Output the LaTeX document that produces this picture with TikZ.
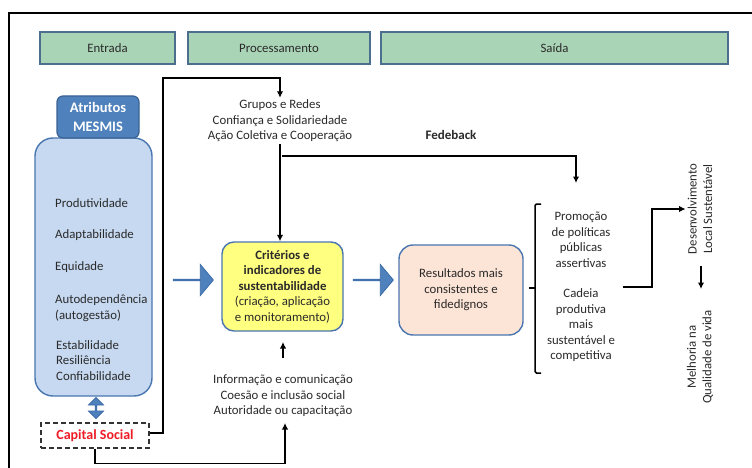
\documentclass[tikz,border=0pt]{standalone}
\usepackage{fontspec}
\setmainfont{Carlito}
\usetikzlibrary{arrows.meta,shapes.arrows,calc}
\definecolor{hdrfill}{HTML}{AAD4B6}
\definecolor{hdrline}{HTML}{4D6F8E}
\definecolor{txt}{HTML}{2A2A2A}
\definecolor{attrfill}{HTML}{4F81BD}
\definecolor{attrline}{HTML}{3B6294}
\definecolor{bigfill}{HTML}{C6D9F1}
\definecolor{boxline}{HTML}{4A76B0}
\definecolor{yellowfill}{HTML}{FFFF80}
\definecolor{peachfill}{HTML}{FCE4D6}
\definecolor{arrfill}{HTML}{4F81BD}
\definecolor{arrline}{HTML}{3A6AA8}
\definecolor{capred}{HTML}{EE1C25}
\tikzset{
  hdr/.style={draw=hdrline, fill=hdrfill, line width=1.3pt, minimum height=32, inner sep=0, font=\fontsize{12.8}{14}\selectfont, text=txt},
  txtnode/.style={align=center, text=txt, font=\fontsize{12.8}{15.5}\selectfont, inner sep=2},
  item/.style={anchor=west, text=txt, font=\fontsize{12.8}{15.5}\selectfont, inner sep=0, align=left},
  arr/.style={draw=black, line width=1.5pt, -{Latex[length=6.5pt,width=6.5pt]}},
  conn/.style={draw=black, line width=1.5pt},
  blockarrow/.style={single arrow, draw=arrline, fill=arrfill, line width=0.8pt, minimum height=40, minimum width=31, single arrow head extend=7.5, inner sep=0, single arrow tip angle=100},
  roundbox/.style={draw=boxline, line width=1.4pt, align=center, text=txt, inner sep=2, font=\fontsize{12.8}{15.5}\selectfont},
}
\begin{document}
\begin{tikzpicture}[x=1pt,y=-1pt]
\useasboundingbox (0,0) rectangle (752,468);
\fill[white] (0,0) rectangle (752,468);
\begin{scope}
  \clip (0,0) rectangle (752,468);
  \draw[line width=2pt] (9,480) -- (9,13) -- (770,13);
\end{scope}

% headers
\node[hdr, minimum width=135] (entrada) at (107.5,48) {Entrada};
\node[hdr, minimum width=182] (proc) at (279,48) {Processamento};
\node[hdr, minimum width=347] (saida) at (554.5,48) {Saída};

% attributes
\node[draw=boxline, fill=bigfill, line width=1.4pt, rounded corners=18, minimum width=117, minimum height=258] (big) at (93.5,267) {};
\node[draw=attrline, fill=attrfill, line width=1.2pt, rounded corners=6, minimum width=82, minimum height=42, inner sep=0, text=white, align=center, font=\bfseries\fontsize{14.5}{19}\selectfont] (attr) at (98,117) {Atributos\\MESMIS};
\node[item] (i1) at (55,203) {Produtividade};
\node[item] (i2) at (55,235) {Adaptabilidade};
\node[item] (i3) at (55,267) {Equidade};
\node[item] (i4) at (55,308) {Autodependência\\(autogestão)};
\node[item] (i5) at (56,360.5) {Estabilidade\\Resiliência\\Confiabilidade};

\node[double arrow, rotate=90, draw=arrline, fill=arrfill, line width=0.8pt, minimum height=21, minimum width=15, double arrow head extend=3.5, inner sep=0] (dbl) at (96,408) {};

\node[draw=black!80, dashed, dash pattern=on 5pt off 3pt, line width=1.4pt, minimum width=108, minimum height=25, inner sep=0, text=capred, font=\bfseries\fontsize{14}{16}\selectfont] (cs) at (95,435.5) {Capital Social};

% processing
\node[txtnode] (grupos) at (280,121) {Grupos e Redes\\Confiança e Solidariedade\\Ação Coletiva e Cooperação};
\node[roundbox, fill=yellowfill, rounded corners=12, minimum width=121, minimum height=89] (crit) at (282.5,286.5) {\textbf{Critérios e}\\\textbf{indicadores de}\\\textbf{sustentabilidade}\\(criação, aplicação\\e monitoramento)};
\node[txtnode] (info) at (283,396) {Informação e comunicação\\Coesão e inclusão social\\Autoridade ou capacitação};

\node[blockarrow] (ba1) at (193,280) {};
\node[blockarrow] (ba2) at (373,280) {};

\node[roundbox, fill=peachfill, rounded corners=14, minimum width=124, minimum height=90] (res) at (461,290) {Resultados mais\\consistentes e\\fidedignos};

\node[text=txt, font=\bfseries\fontsize{13}{15}\selectfont] (fb) at (451,135) {Fedeback};

% outputs
\node[txtnode] (promo) at (581,240) {Promoção\\de políticas\\públicas\\assertivas};
\node[txtnode] (cadeia) at (581,325.5) {Cadeia\\produtiva\\mais\\sustentável e\\competitiva};
\draw[conn, rounded corners=1.5] (541,204) -- (535,204) -- (535,373) -- (541,373);
\draw[conn] (529,288) -- (535,288);

\node[txtnode, rotate=90] (desen) at (700,209) {Desenvolvimento\\Local Sustentável};
\node[txtnode, rotate=90] (melh) at (700,357) {Melhoria na\\Qualidade de vida};

% connectors
\coordinate (csr) at (163,78);
\draw[arr] (cs.east |- 0,433) -- (csr |- 0,433) -- (csr) -| (grupos.north);
\draw[arr] (grupos.south) -- (grupos.south |- crit.north);
\coordinate (fbstart) at (282,156);
\coordinate (fbend) at (576,183);
\draw[arr] (fbstart) -| (fbend);
\coordinate (infoup) at (283,358);
\draw[arr] (infoup) -- ++(0,-16);
\coordinate (infoin) at (285,423);
\draw[arr] (cs.south) -- ++(0,15) -| (infoin);
\coordinate (cstart) at (623,287);
\draw[arr] (cstart) -- (652,287) |- (desen.north);
\coordinate (dtop) at (701,266);
\draw[arr] (dtop) -- (701,289);
\end{tikzpicture}
\end{document}
